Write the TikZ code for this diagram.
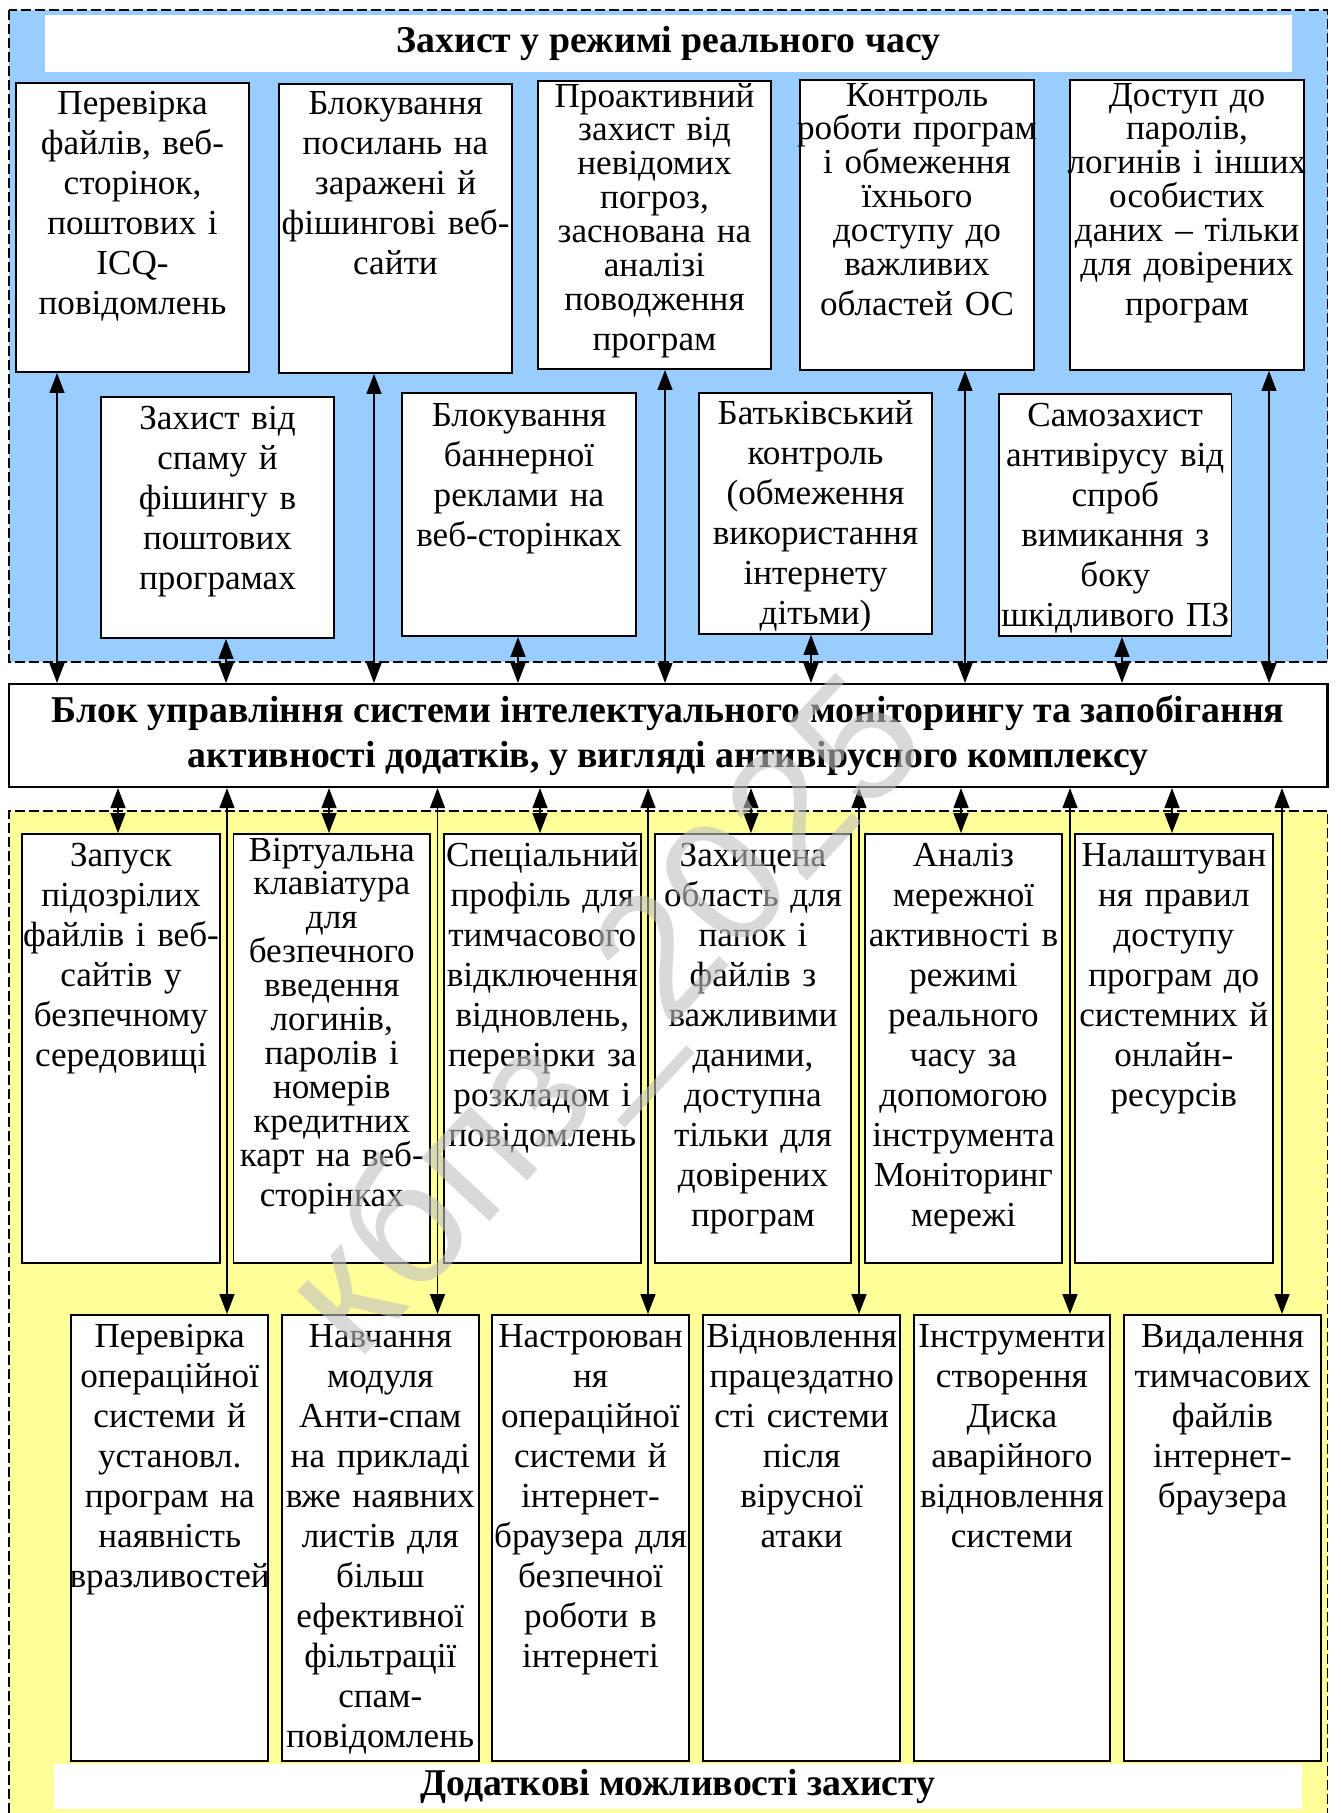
\documentclass[tikz,border=0pt]{standalone}
\usepackage{fontspec}
\setmainfont{Liberation Serif}
\setsansfont{Liberation Sans}
\usetikzlibrary{arrows.meta,fit,calc}

\definecolor{rtblue}{RGB}{153,204,255}
\definecolor{extyellow}{RGB}{255,255,153}
\definecolor{stampgray}{RGB}{192,192,192}

% feature box: name, x1, y1, x2, y2, first-baseline offset, text
\newcommand\featbox[7]{%
  \node[box, fit={(#2,#3) (#4,#5)}] (#1) {};
  \node[txt, anchor=base] (#1t) at ($(#1.north)+(0,#6)$) {#7};
}
% vertical two-way link at a given x: coordinate name, from, to, x
\newcommand\linkv[4]{%
  \coordinate (#1) at (#4,0);
  \draw[link] (#2 -| #1) -- (#3 -| #1);
}
\newcommand\tight{\fontsize{20}{19.3}\selectfont}

\begin{document}
\begin{tikzpicture}[x=0.02cm,y=-0.02cm,
  box/.style={draw=black, line width=1.1pt, fill=white, inner sep=0pt},
  txt/.style={inner sep=0pt, text width=6cm, align=center,
    font=\fontsize{20}{22.8}\selectfont},
  head/.style={inner sep=0pt, align=center,
    font=\fontsize{21.5}{25.5}\selectfont\bfseries},
  link/.style={line width=0.8pt,
    {Triangle[length=0.4cm,width=0.3cm]}-{Triangle[length=0.4cm,width=0.3cm]}},
  zone/.style={line width=1pt, dash pattern=on 0.2cm off 0.08cm}
]
\useasboundingbox (0,0) rectangle (1341,1813);

% zones
\fill[rtblue] (9,10) rectangle (1327.5,662);
\draw[zone] (9,10) rectangle (1327.5,662);
\fill[extyellow] (9,811) rectangle (1327.5,1813);
\draw[zone] (9,1813) -- (9,811) -- (1327.5,811) -- (1327.5,1813);

% zone titles
\node[fill=white, inner sep=0pt, fit={(45,15) (1292,72)}] (rttitle) {};
\node[head] (rttitlet) at (rttitle.center) {Захист у режимі реального часу};
\node[fill=white, inner sep=0pt, fit={(54,1764) (1302,1809)}] (extitle) {};
\node[head] (extitlet) at (extitle.center) {Додаткові можливості захисту};

% control block
\node[box, line width=1.2pt, fit={(9,684) (1327.5,787)}] (core) {};
\node[head] (coret) at (core.center) {Блок управління системи інтелектуального моніторингу та запобігання\\активності додатків, у вигляді антивірусного комплексу};

% real-time protection, upper row
\featbox{t1}{16}{83}{249}{372}{32}{Перевірка\\файлів, веб-\\сторінок,\\поштових і\\ICQ-\\повідомлень}
\featbox{t2}{279}{84}{512}{373}{31}{Блокування\\посилань на\\заражені й\\фішингові веб-\\сайти}
\featbox{t3}{538}{81}{771}{369}{27}{\tight Проактивний\\захист від\\невідомих\\погроз,\\заснована на\\аналізі\\поводження\\програм}
\featbox{t4}{800}{80}{1034}{370}{27}{\tight Контроль\\роботи програм\\і обмеження\\їхнього\\доступу до\\важливих\\областей ОС}
\featbox{t5}{1070}{80}{1304}{370}{27}{\tight Доступ до\\паролів,\\логинів і інших\\особистих\\даних – тільки\\для довірених\\програм}

% real-time protection, lower row
\featbox{s1}{101}{397}{334}{638}{33}{Захист від\\спаму й\\фішингу в\\поштових\\програмах}
\featbox{s2}{402}{393}{636}{636}{34}{Блокування\\баннерної\\реклами на\\веб-сторінках}
\featbox{s3}{699}{393}{932}{634}{32}{Батьківський\\контроль\\(обмеження\\використання\\інтернету\\дітьми)}
\featbox{s4}{999}{394}{1231.5}{636}{33}{Самозахист\\антивірусу від\\спроб\\вимикання з\\боку\\шкідливого ПЗ}

% additional features, upper row
\featbox{r1}{22}{834}{220}{1263}{33}{Запуск\\підозрілих\\файлів і веб-\\сайтів у\\безпечному\\середовищі}
\featbox{r2}{233.5}{834}{430}{1263}{28}{\tight Віртуальна\\клавіатура\\для\\безпечного\\введення\\логинів,\\паролів і\\номерів\\кредитних\\карт на веб-\\сторінках}
\featbox{r3}{444}{834}{640.6}{1263}{33}{Спеціальний\\профіль для\\тимчасового\\відключення\\відновлень,\\перевірки за\\розкладом і\\повідомлень}
\featbox{r4}{655}{834}{851}{1263}{33}{Захищена\\область для\\папок і\\файлів з\\важливими\\даними,\\доступна\\тільки для\\довірених\\програм}
\featbox{r5}{865}{834}{1062}{1263}{33}{Аналіз\\мережної\\активності в\\режимі\\реального\\часу за\\допомогою\\інструмента\\Моніторинг\\мережі}
\featbox{r6}{1075}{834}{1272.6}{1263}{33}{Налаштуван\\ня правил\\доступу\\програм до\\системних й\\онлайн-\\ресурсів}

% additional features, lower row
\featbox{b1}{71.4}{1315}{268}{1761}{33}{Перевірка\\операційної\\системи й\\установл.\\програм на\\наявність\\вразливостей}
\featbox{b2}{282}{1315}{478.6}{1761}{33}{Навчання\\модуля\\Анти-спам\\на прикладі\\вже наявних\\листів для\\більш\\ефективної\\фільтрації\\спам-\\повідомлень}
\featbox{b3}{492}{1315}{689}{1761}{33}{Настроюван\\ня\\операційної\\системи й\\інтернет-\\браузера для\\безпечної\\роботи в\\інтернеті}
\featbox{b4}{703.4}{1315}{900}{1761}{33}{Відновлення\\працездатно\\сті системи\\після\\вірусної\\атаки}
\featbox{b5}{913.7}{1315}{1110}{1761}{33}{Інструменти\\створення\\Диска\\аварійного\\відновлення\\системи}
\featbox{b6}{1124}{1315}{1321}{1761}{33}{Видалення\\тимчасових\\файлів\\інтернет-\\браузера}

% links: real-time protection <-> control block
\linkv{xt1}{t1.south}{core.north}{57}
\linkv{xt2}{t2.south}{core.north}{374}
\linkv{xt3}{t3.south}{core.north}{665}
\linkv{xt4}{t4.south}{core.north}{965}
\linkv{xt5}{t5.south}{core.north}{1269}
\linkv{xs1}{s1.south}{core.north}{226}
\linkv{xs2}{s2.south}{core.north}{518}
\linkv{xs3}{s3.south}{core.north}{811}
\linkv{xs4}{s4.south}{core.north}{1122}

% links: control block <-> additional features
\linkv{xr1}{core.south}{r1.north}{118}
\linkv{xr2}{core.south}{r2.north}{329}
\linkv{xr3}{core.south}{r3.north}{540}
\linkv{xr4}{core.south}{r4.north}{751}
\linkv{xr5}{core.south}{r5.north}{961}
\linkv{xr6}{core.south}{r6.north}{1172}
\linkv{xb1}{core.south}{b1.north}{227}
\linkv{xb2}{core.south}{b2.north}{437.5}
\linkv{xb3}{core.south}{b3.north}{648}
\linkv{xb4}{core.south}{b4.north}{859}
\linkv{xb5}{core.south}{b5.north}{1070}
\linkv{xb6}{core.south}{b6.north}{1282}

% watermark
\node[font=\sffamily\fontsize{100}{100}\selectfont, text=stampgray, text opacity=0.6,
  rotate=47, inner sep=0pt] (wm) at (612,1022) {кбпз\_2025};
\end{tikzpicture}
\end{document}
